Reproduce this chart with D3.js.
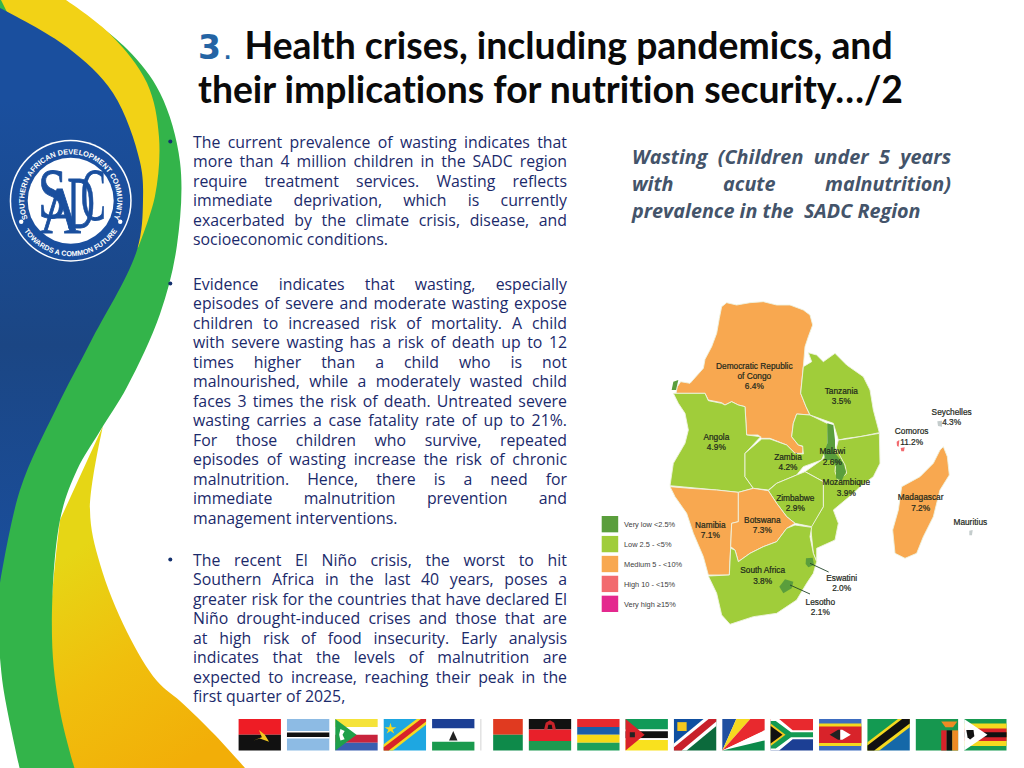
<!DOCTYPE html>
<html><head><meta charset="utf-8">
<style>html,body{margin:0;padding:0;background:#fff;overflow:hidden}svg{display:block}text{font-variant-ligatures:none;white-space:pre}</style>
<script src="https://cdn.jsdelivr.net/npm/d3@7"></script></head>
<body><svg id="s" width="1024" height="768" viewBox="0 0 1024 768"></svg>
<script>
// ---------- text ----------
const titleLines = ["Health crises, including pandemics, and","their implications for nutrition security…/2"];
const titleNumber = "3";
const paragraphs = [
 ["The current prevalence of wasting indicates that","more than 4 million children in the SADC region","require treatment services. Wasting reflects","immediate deprivation, which is currently","exacerbated by the climate crisis, disease, and","socioeconomic conditions."],
 ["Evidence indicates that wasting, especially","episodes of severe and moderate wasting expose","children to increased risk of mortality. A child","with severe wasting has a risk of death up to 12","times higher than a child who is not","malnourished, while a moderately wasted child","faces 3 times the risk of death. Untreated severe","wasting carries a case fatality rate of up to 21%.","For those children who survive, repeated","episodes of wasting increase the risk of chronic","malnutrition. Hence, there is a need for","immediate malnutrition prevention and","management interventions."],
 ["The recent El Niño crisis, the worst to hit","Southern Africa in the last 40 years, poses a","greater risk for the countries that have declared El","Niño drought-induced crises and those that are","at high risk of food insecurity. Early analysis","indicates that the levels of malnutrition are","expected to increase, reaching their peak in the","first quarter of 2025,"]
];
const paragraphTops = [147.6, 289.6, 565.6];
const mapHeading = ["Wasting (Children under 5 years","with acute malnutrition)","prevalence in the  SADC Region"];
// ---------- data ----------
const legendLabels = ["Very low <2.5%","Low 2.5 - <5%","Medium 5 - <10%","High 10 - <15%","Very high ≥15%"];
const legendColors = ["#5a9e3c","#a0cd3a","#f8a850","#f26a6e","#e4288e"];
const countries = ["Democratic Republic of Congo","Tanzania","Angola","Zambia","Malawi","Mozambique","Zimbabwe","Namibia","Botswana","South Africa","Eswatini","Lesotho","Madagascar","Comoros","Seychelles","Mauritius"];
const values =    [6.4,3.5,4.9,4.2,2.6,3.9,2.9,7.1,7.3,3.8,2.0,2.1,7.2,11.2,4.3,null];
const bands =     [2,1,1,1,0,1,1,2,2,1,0,0,2,3,1,1];
// label anchor points, map units
const labelLines = [["Democratic Republic","of Congo","6.4%"],["Tanzania","3.5%"],["Angola","4.9%"],["Zambia","4.2%"],["Malawi","2.6%"],["Mozambique","3.9%"],["Zimbabwe","2.9%"],["Namibia","7.1%"],["Botswana","7.3%"],["South Africa","3.8%"],["Eswatini","2.0%"],["Lesotho","2.1%"],["Madagascar","7.2%"],["Comoros","11.2%"],["Seychelles","4.3%"],["Mauritius"]];
const labelAt = [[493,237],[754,312],[379,449],[594,510],[727,493],[769,586],[616,633],[361,714],[517,699],[518,850],[755,873],[691,944],[992,631],[965,433],[1085,375],[1141,705]];
const outlines = {
 "Democratic Republic of Congo":[[258,310],[262,290],[272,275],[300,280],[340,235],[345,208],[365,170],[380,130],[388,85],[395,50],[410,38],[440,45],[480,38],[520,35],[560,45],[600,45],[640,60],[660,75],[668,105],[655,140],[645,170],[640,230],[632,310],[648,350],[660,375],[620,372],[610,400],[605,440],[625,465],[640,470],[638,490],[615,490],[590,465],[540,445],[515,445],[505,435],[470,435],[465,350],[445,345],[425,335],[405,345],[395,338],[355,330],[345,310]],
 "Angola":[[250,310],[345,310],[355,332],[395,340],[405,345],[425,335],[445,345],[465,350],[470,435],[512,440],[465,490],[465,560],[490,595],[445,607],[380,600],[240,587],[250,520],[285,460],[295,420],[285,370],[265,340]],
 "Cabinda":[[245,300],[250,275],[265,270],[258,300]],
 "Zambia":[[515,447],[540,447],[590,465],[615,490],[640,492],[638,468],[625,465],[605,440],[610,400],[620,372],[660,375],[715,402],[712,470],[695,510],[640,530],[620,555],[560,580],[535,600],[490,595],[465,560],[465,490]],
 "Tanzania":[[655,188],[680,195],[700,215],[735,190],[770,225],[820,260],[840,300],[850,360],[868,428],[810,440],[770,445],[745,450],[730,400],[660,375],[648,350],[632,310],[640,230],[665,215]],
 "Mozambique":[[745,450],[770,447],[810,440],[868,430],[870,520],[850,560],[810,590],[790,610],[730,660],[745,700],[735,750],[680,775],[680,815],[670,790],[662,712],[700,650],[700,575],[645,545],[695,510],[735,470],[765,525],[770,550],[745,572],[735,545],[738,510],[735,490]],
 "Malawi":[[712,400],[730,405],[735,450],[735,490],[760,520],[768,545],[755,572],[738,565],[738,530],[728,510],[705,510],[702,490],[712,460]],
 "Zimbabwe":[[535,602],[560,580],[620,555],[645,545],[700,575],[700,650],[665,710],[615,700],[590,680],[560,640]],
 "Namibia":[[240,590],[300,595],[380,600],[445,607],[445,695],[425,700],[422,770],[418,855],[355,855],[340,800],[310,730],[290,670],[255,620]],
 "Botswana":[[445,607],[490,595],[535,602],[560,640],[590,680],[615,700],[590,715],[560,755],[520,770],[480,790],[445,815],[435,780],[422,770],[425,700],[445,695]],
 "South Africa":[[445,815],[480,790],[520,770],[560,755],[590,715],[615,705],[665,712],[660,740],[670,790],[680,815],[670,850],[650,880],[620,930],[560,970],[490,980],[420,1003],[395,975],[380,910],[355,858],[418,855],[422,775],[435,780]],
 "Eswatini":[[648,805],[668,803],[672,825],[655,832],[647,822]],
 "Lesotho":[[568,890],[585,868],[610,875],[605,895],[580,910]],
 "Madagascar":[[1060,470],[1072,500],[1078,555],[1050,600],[1030,680],[1000,740],[980,790],[945,805],[915,790],[908,720],[925,660],[935,590],[990,560],[1030,520],[1050,480]],
 "Comoros":[[920,455],[928,450],[926,470],[921,468]],
 "Comoros2":[[932,474],[944,472],[942,484],[934,484]],
 "Seychelles":[[1042,394],[1056,392],[1056,410],[1044,408]],
 "Mauritius":[[1138,722],[1148,720],[1146,736],[1138,736]]
};
const outlineFill = {"Cabinda":0,"Comoros2":3,"Seychelles":-1,"Mauritius":-1};
const leaders = [[[660,820],[716,846]],[[600,885],[660,912]]];
const flagNames = ["Angola","Botswana","Comoros","DR Congo","Lesotho","Madagascar","Malawi","Mauritius","Mozambique","Namibia","Seychelles","South Africa","Eswatini","Tanzania","Zambia","Zimbabwe"];
// each flag: [colour, polygon in 0..100 flag units]
const R=(x,y,w,h)=>[[x,y],[x+w,y],[x+w,y+h],[x,y+h]];
const flagShapes = {
 "Angola":[["#ee1c25",R(0,0,100,50)],["#111",R(0,50,100,50)],["#f2c81e",[[48,35],[62,50],[72,72],[50,62],[36,68],[55,58]]]],
 "Botswana":[["#8dbbe4",R(0,0,100,100)],["#fff",R(0,38,100,24)],["#111",R(0,43,100,14)]],
 "Comoros":[["#f5e33a",R(0,0,100,25)],["#fff",R(0,25,100,25)],["#c8243c",R(0,50,100,25)],["#3a5fb0",R(0,75,100,25)],["#1fa04a",[[0,0],[50,50],[0,100]]],["#fff",[[12,32],[22,38],[17,50],[22,64],[12,68],[9,50]]]],
 "DR Congo":[["#1ea7e1",R(0,0,100,100)],["#f5d91f",[[78,0],[100,0],[100,18],[22,100],[0,100],[0,80]]],["#d8232a",[[88,0],[100,0],[100,8],[12,100],[0,100],[0,90]]],["#f5d91f",[[16,12],[19,26],[30,26],[21,34],[25,46],[16,38],[7,46],[11,34],[2,26],[13,26]]]],
 "Lesotho":[["#1c3f94",R(0,0,100,30)],["#fff",R(0,30,100,42)],["#1a9a4e",R(0,72,100,28)],["#222",[[50,38],[60,68],[40,68]]]],
 "Madagascar":[["#fff",R(0,0,30,100)],["#e03a20",R(30,0,70,50)],["#0e8a4a",R(30,50,70,50)],["#ccc",R(0,0,2,100)]],
 "Malawi":[["#111",R(0,0,100,33)],["#e8202a",R(0,33,100,37)],["#1e9a50",R(0,70,100,30)],["#c8232a",[[36,33],[40,12],[50,4],[60,12],[64,33],[56,33],[54,18],[46,18],[44,33]]]],
 "Mauritius":[["#e8292e",R(0,0,100,25)],["#1a5ea8",R(0,25,100,25)],["#f7d917",R(0,50,100,25)],["#1ea05a",R(0,75,100,25)]],
 "Mozambique":[["#109a58",R(0,0,100,33)],["#fff",R(0,33,100,6)],["#111",R(0,39,100,22)],["#fff",R(0,61,100,6)],["#f9e11e",R(0,67,100,33)],["#d8232a",[[0,0],[45,50],[0,100]]],["#222",[[10,42],[22,42],[22,58],[10,58]]]],
 "Namibia":[["#0f4fa0",[[0,0],[100,0],[0,100]]],["#0c6a3c",[[100,0],[100,100],[0,100]]],["#fff",[[70,0],[100,0],[100,22],[30,100],[0,100],[0,78]]],["#c8202a",[[82,0],[100,0],[100,8],[18,100],[0,100],[0,90]]],["#f5c91e",R(8,10,22,28)]],
 "Seychelles":[["#fff",R(0,0,100,100)],["#1f4fa0",[[0,100],[0,0],[33,0]]],["#f5d91f",[[0,100],[33,0],[66,0]]],["#e8292e",[[0,100],[66,0],[100,0],[100,36]]],["#fff",[[0,100],[100,36],[100,68]]],["#0c8a4a",[[0,100],[100,68],[100,100]]]],
 "South Africa":[["#e8292e",R(0,0,100,50)],["#1c3f94",R(0,50,100,50)],["#fff",[[0,0],[20,0],[52,36],[100,36],[100,64],[52,64],[20,100],[0,100]]],["#139a52",[[0,6],[12,6],[48,42],[100,42],[100,58],[48,58],[12,94],[0,94]]],["#f5c91e",[[0,14],[35,50],[0,86]]],["#111",[[0,22],[28,50],[0,78]]]],
 "Eswatini":[["#3d6cc0",R(0,0,100,100)],["#f5d91f",R(0,14,100,72)],["#d8232a",R(0,24,100,52)],["#222",[[25,50],[45,34],[50,34],[50,66],[45,66]]],["#fff",[[50,34],[55,34],[75,50],[55,66],[50,66]]]],
 "Tanzania":[["#139a52",[[0,0],[100,0],[0,100]]],["#1568a8",[[100,0],[100,100],[0,100]]],["#f5d91f",[[72,0],[100,0],[100,26],[28,100],[0,100],[0,74]]],["#111",[[82,0],[100,0],[100,14],[16,100],[0,100],[0,84]]]],
 "Zambia":[["#16974f",R(0,0,100,100)],["#d8232a",R(60,36,13,64)],["#111",R(73,36,13,64)],["#ee8a24",R(86,36,14,64)],["#ee8a24",[[60,8],[98,8],[88,26],[70,26]]]],
 "Zimbabwe":[["#179a50",R(0,0,100,100)],["#f5d91f",R(0,14,100,72)],["#d8232a",R(0,30,100,40)],["#111",R(0,42,100,16)],["#fff",[[0,0],[55,50],[0,100]]],["#111",[[5,35],[22,35],[24,55],[14,65],[8,58]]]]
};
// ---------- drawing ----------
const svg = d3.select("#s");
const defs = svg.append("defs");
const lg=(id,x1,y1,x2,y2,st)=>{const g=defs.append("linearGradient").attr("id",id).attr("gradientUnits","userSpaceOnUse").attr("x1",x1).attr("y1",y1).attr("x2",x2).attr("y2",y2);st.forEach(s=>g.append("stop").attr("offset",s[0]).attr("stop-color",s[1]));};
lg("blue",0,100,0,590,[[0,"#1a4f9e"],[.5,"#1b4684"],[1,"#1a4f9e"]]);
lg("gold",60,560,190,760,[[0,"#e6d615"],[.5,"#f0bf0d"],[1,"#f2ae08"]]);
const sw = d3.line().curve(d3.curveCatmullRom.alpha(.5));
const swBg = svg.append("g");
// each shape: smooth segments joined by straight lines
const addS=(segs,fill)=>swBg.append("path").attr("d",segs.map((s,i)=>i?sw(s).replace(/^M/,"L"):sw(s)).join("")+"Z").attr("fill",fill);
addS([[[103,426],[90,510],[100,564],[127,632],[157,681],[180,701],[215,735],[245,768]],[[60,768],[50,640],[60,520]]],"url(#gold)");
addS([[[62,-2],[127,49],[160,93],[180,162],[177,245],[160,314],[127,387],[100,431],[77,470],[60,520],[52,637],[60,711],[75,770]],[[20,770],[3,686],[-2,630]],[[-2,0]]],"#33b44a");
addS([[[0,-2],[63,-2]],[[63,-2],[110,34],[147,83],[159,137],[155,196],[138,248]],[[100,200]],[[0,100]]],"#f2d216");
addS([[[-2,7],[67,47],[113,93],[140,162],[143,200],[137,250],[90,343],[57,407],[20,490],[-2,595]]],"url(#blue)");

// logo
const logo = svg.append("g").attr("transform","translate(70.7,200.7)");
logo.append("circle").attr("r",61).attr("fill","#fff");
logo.append("circle").attr("r",59.5).attr("fill","#1a4f9e");
logo.append("circle").attr("r",43).attr("fill","#fff");
defs.append("path").attr("id","ringT").attr("d","M-43.1,17.4 A46.5,46.5 0 1 1 43.1,17.4");
defs.append("path").attr("id","ringB").attr("d","M-48,27.7 A55.4,55.4 0 0 0 48,27.7");
logo.append("text").attr("font-family","Liberation Sans").attr("font-weight",700).attr("font-size",7.4).attr("fill","#fff")
 .append("textPath").attr("href","#ringT").attr("startOffset","50%").attr("text-anchor","middle").text("SOUTHERN AFRICAN DEVELOPMENT COMMUNITY");
logo.append("text").attr("font-family","Liberation Sans").attr("font-weight",700).attr("font-size",7.2).attr("fill","#fff")
 .append("textPath").attr("href","#ringB").attr("startOffset","50%").attr("text-anchor","middle").text("TOWARDS A COMMON FUTURE");
logo.selectAll("circle.d").data([-1,1]).join("circle").attr("class","d").attr("cx",d=>d*49.5).attr("cy",21).attr("r",2.2).attr("fill","#fff");
// letter, dx, baseline dy, font size, horizontal squeeze
[["S",-18.4,17.6,72,.72],["A",-10.7,32.6,68,.85],["D",10.3,27.6,75,.5],["C",22.6,19.3,75,.5]].forEach(l=>{
 logo.append("text").attr("transform",`translate(${l[1]},${l[2]}) scale(${l[4]},1)`).attr("text-anchor","middle").attr("font-family","Liberation Serif").attr("font-size",l[3]).attr("fill","#1a4f9e").attr("stroke","#1a4f9e").attr("stroke-width",.9).text(l[0]);
});

// title
const title = svg.append("g").attr("font-family","Lato");
title.append("text").attr("x",198).attr("y",59).attr("font-family","DejaVu Sans").attr("font-weight",700).attr("font-size",33).attr("fill","#2464a4").text(titleNumber);
title.append("text").attr("x",224).attr("y",59).attr("font-family","DejaVu Sans").attr("font-weight",700).attr("font-size",19).attr("fill","#2464a4").text(".");
title.append("text").attr("x",244.5).attr("y",59).attr("font-weight",700).attr("font-size",37.35).attr("fill","#0a0a0a").text(titleLines[0]);
title.append("text").attr("x",198).attr("y",103).attr("font-weight",700).attr("font-size",37.35).attr("fill","#0a0a0a").text(titleLines[1]);

// justified text
function justified(g,line,x,y,w,last){
 const t=g.append("text").attr("x",x).attr("y",y).text(line);
 const n=line.trim().split(/\s+/).length-1;
 if(!last&&n>0){const L=t.node().getComputedTextLength();t.style("word-spacing",((w-L)/n)+"px");}
 return t;
}
const body = svg.append("g").attr("font-family","Open Sans").attr("font-size",15.85).attr("fill","#1b2a6b");
paragraphs.forEach((p,i)=>{
 p.forEach((l,j)=>justified(body,l,193,paragraphTops[i]+j*19.52,374,j===p.length-1));
 svg.append("circle").attr("cx",170.3).attr("cy",paragraphTops[i]-6).attr("r",2).attr("fill","#14306e");
});
const head = svg.append("g").attr("font-family","Open Sans").attr("font-weight",700).attr("font-style","italic").attr("font-size",19.8).attr("fill","#44546a");
mapHeading.forEach((l,j)=>justified(head,l,632,163.5+j*27,319,j===2));

// map
const mx = d3.scaleLinear().domain([0,1230]).range([590,1000]);
const my = d3.scaleLinear().domain([0,1050]).range([290,640]);
const ln = d3.line().x(d=>mx(d[0])).y(d=>my(d[1])).curve(d3.curveLinearClosed);
const map = svg.append("g");
const bandOf = n=>{ if(n in outlineFill) return outlineFill[n]; return bands[countries.indexOf(n)]; };
const order = Object.keys(outlines);
map.selectAll("path.c").data(order).join("path").attr("class","c")
 .attr("d",n=>ln(outlines[n]))
 .attr("fill",n=>{const b=bandOf(n);return b<0?"#c4cccc":legendColors[b];})
 .attr("stroke",n=>["Malawi","Eswatini","Lesotho","Cabinda","Comoros","Comoros2","Seychelles","Mauritius"].includes(n)?"none":"#eef3e0")
 .attr("stroke-width",.9).attr("stroke-linejoin","round");
map.selectAll("line.l").data(leaders).join("line").attr("class","l")
 .attr("x1",d=>mx(d[0][0])).attr("y1",d=>my(d[0][1])).attr("x2",d=>mx(d[1][0])).attr("y2",d=>my(d[1][1]))
 .attr("stroke","#24452a").attr("stroke-width",.9);
const lab = map.append("g").attr("font-family","Liberation Sans").attr("font-size",8.3).attr("fill","#1f2a1c").attr("text-anchor","middle").attr("stroke","#1f2a1c").attr("stroke-width",.22);
countries.forEach((c,i)=>{
 labelLines[i].forEach((s,j)=>lab.append("text").attr("x",mx(labelAt[i][0])).attr("y",my(labelAt[i][1])+j*10.2).text(s));
});
// legend
const ly = d3.scaleBand().domain(legendLabels).range([516,612]).paddingInner(.18);
const leg = svg.append("g");
leg.selectAll("rect").data(legendLabels).join("rect").attr("x",601.7).attr("y",d=>ly(d)).attr("width",16.5).attr("height",ly.bandwidth()).attr("fill",(d,i)=>legendColors[i]);
leg.selectAll("text").data(legendLabels).join("text").attr("x",624).attr("y",d=>ly(d)+ly.bandwidth()/2+3).attr("font-family","Liberation Sans").attr("font-size",7.4).attr("fill","#3c3c3c").text(d=>d);

// flags
const fx = d3.scaleBand().domain(flagNames).range([238.6,1006.5]).paddingInner(.125);
const fy = d3.scaleLinear().domain([0,100]).range([719,750.5]);
const fl = svg.append("g");
flagNames.forEach(n=>{
 const w=d3.scaleLinear().domain([0,100]).range([fx(n),fx(n)+fx.bandwidth()]);
 const l=d3.line().x(p=>w(p[0])).y(p=>fy(p[1])).curve(d3.curveLinearClosed);
 fl.append("g").selectAll("path").data(flagShapes[n]).join("path").attr("d",d=>l(d[1])).attr("fill",d=>d[0]);
});
</script></body></html>
